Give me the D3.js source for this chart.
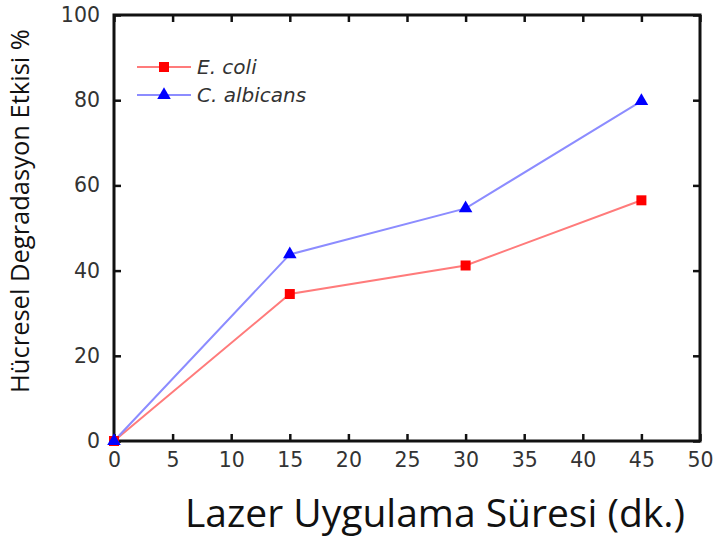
<!DOCTYPE html>
<html><head><meta charset="utf-8">
<script src="https://cdn.jsdelivr.net/npm/d3@7"></script>
<style>body{margin:0;background:#fff}svg{display:block}</style>
</head><body>
<svg id="c" width="715" height="538"></svg>
<script>
const times = [0, 15, 30, 45];
const ecoli = [0, 34.5, 41.2, 56.5];
const calbicans = [0, 43.8, 54.6, 79.8];
const seriesNames = ["E. coli", "C. albicans"];
const xTicks = [0,5,10,15,20,25,30,35,40,45,50];
const yTicks = [0,20,40,60,80,100];
const xTitle = "Lazer Uygulama Süresi (dk.)";
const yTitle = "Hücresel Degradasyon Etkisi %";

const svg = d3.select("#c");
const L = 114, R = 700, T = 15, B = 441;
const x = d3.scaleLinear().domain([0,50]).range([L,R]);
const y = d3.scaleLinear().domain([0,100]).range([B,T]);

const tickFont = "DejaVu Sans, Verdana, sans-serif";

// inward ticks on all sides
const gb = svg.append("g").attr("transform",`translate(0,${B})`)
  .call(d3.axisBottom(x).tickValues(xTicks).tickSize(-7).tickPadding(14).tickSizeOuter(0));
const gt = svg.append("g").attr("transform",`translate(0,${T})`)
  .call(d3.axisTop(x).tickValues(xTicks).tickSize(-7).tickFormat("").tickSizeOuter(0));
const gl = svg.append("g").attr("transform",`translate(${L},0)`)
  .call(d3.axisLeft(y).tickValues(yTicks).tickSize(-7).tickPadding(14).tickSizeOuter(0));
const gr = svg.append("g").attr("transform",`translate(${R},0)`)
  .call(d3.axisRight(y).tickValues(yTicks).tickSize(-7).tickFormat("").tickSizeOuter(0));
[gb,gt,gl,gr].forEach(g=>{
  g.select(".domain").remove();
  g.selectAll(".tick line").attr("stroke","#111").attr("stroke-width",2.5);
  g.selectAll("text").attr("font-family",tickFont).attr("font-size",20.5).attr("fill","#333");
});
gb.selectAll(".tick text").attr("dy","0.6em");
svg.append("rect").attr("x",L).attr("y",T).attr("width",R-L).attr("height",B-T)
  .attr("fill","none").attr("stroke","#111").attr("stroke-width",3);

const line = d3.line().x((d,i)=>x(times[i])).y(d=>y(d));
const colors = {line:["#ff7b7b","#8c8cff"], mark:["#ff0000","#0000ff"]};
[ecoli, calbicans].forEach((s,k)=>{
  svg.append("path").datum(s).attr("d",line).attr("fill","none")
    .attr("stroke",colors.line[k]).attr("stroke-width",2);
});
const sq = d3.symbol().type(d3.symbolSquare).size(100);
const tri = d3.symbol().type(d3.symbolTriangle).size(80);
svg.selectAll(".m1").data(ecoli).join("path").attr("d",sq)
  .attr("transform",(d,i)=>`translate(${x(times[i])},${y(d)})`).attr("fill",colors.mark[0]);
svg.selectAll(".m2").data(calbicans).join("path").attr("d",tri)
  .attr("transform",(d,i)=>`translate(${x(times[i])},${y(d)})`).attr("fill",colors.mark[1]);

// legend
const legY = [67, 95];
seriesNames.forEach((n,k)=>{
  svg.append("line").attr("x1",137).attr("x2",191).attr("y1",legY[k]).attr("y2",legY[k])
    .attr("stroke",colors.line[k]).attr("stroke-width",2);
  svg.append("path").attr("d",k===0?sq:tri).attr("transform",`translate(164,${legY[k]})`)
    .attr("fill",colors.mark[k]);
  svg.append("text").attr("x",197).attr("y",legY[k]).attr("dy","0.35em")
    .attr("font-family",tickFont).attr("font-style","italic").attr("font-size",20)
    .attr("fill","#333").text(n);
});

// titles
svg.append("text").attr("x",435).attr("y",527).attr("text-anchor","middle")
  .attr("font-family","Open Sans, sans-serif").attr("font-size",39).attr("fill","#111").text(xTitle);
svg.append("text").attr("transform","translate(29,211) rotate(-90)").attr("text-anchor","middle")
  .attr("font-family","Open Sans, sans-serif").attr("font-size",25.5).attr("fill","#111").text(yTitle);
</script>
</body></html>
